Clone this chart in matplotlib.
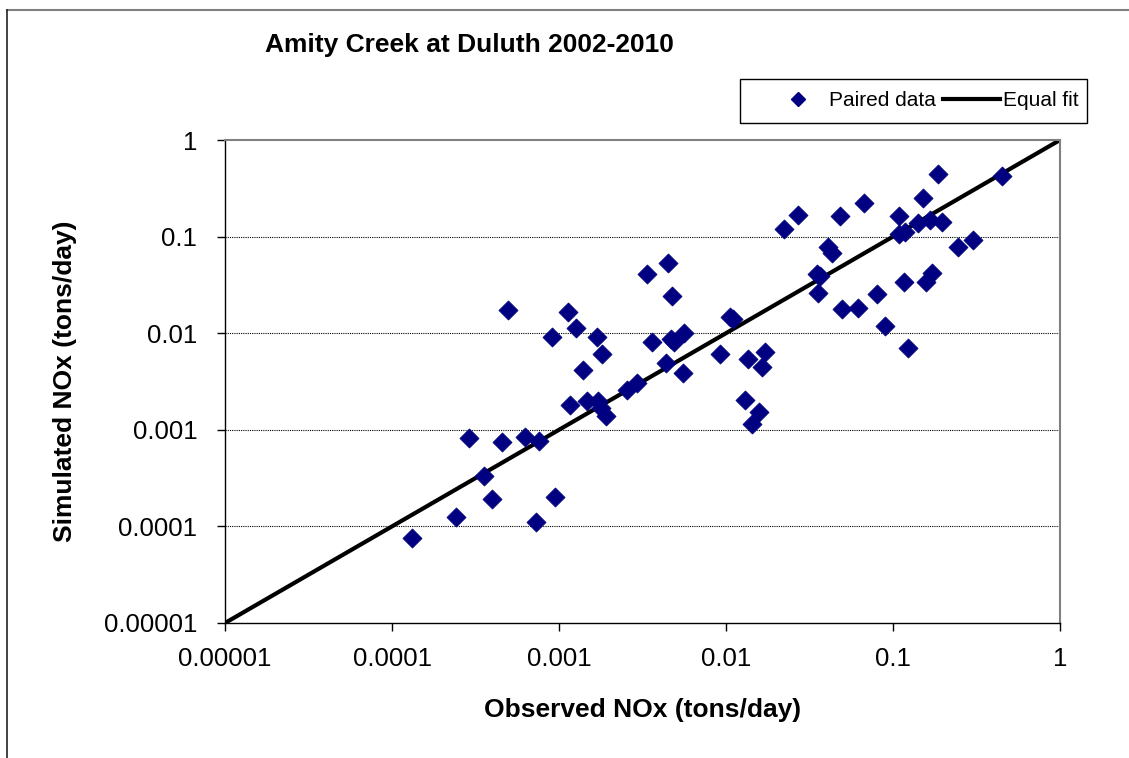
import matplotlib
matplotlib.use("Agg")
import matplotlib.pyplot as plt
from matplotlib.lines import Line2D
from matplotlib.patches import Rectangle

plt.rcParams['font.family'] = ['Liberation Sans', 'DejaVu Sans']

# observed vs simulated NOx (tons/day)
observed = [1.32e-4, 2.42e-4, 2.89e-4, 3.56e-4, 3.97e-4, 4.56e-4, 4.95e-4, 6.25e-4,
            7.28e-4, 7.6e-4, 9.08e-4, 9.46e-4, 1.13e-3, 1.16e-3, 1.26e-3, 1.39e-3,
            1.47e-3, 1.69e-3, 1.71e-3, 1.81e-3, 1.78e-3, 1.91e-3, 2.55e-3, 2.93e-3,
            3.37e-3, 3.61e-3, 4.38e-3, 4.5e-3, 4.75e-3, 4.69e-3, 4.89e-3, 5.61e-3,
            5.53e-3, 9.2e-3, 0.0106, 0.0110, 0.0130, 0.0136, 0.0143, 0.0158,
            0.0164, 0.0171, 0.0222, 0.027, 0.0351, 0.0366, 0.0356, 0.0408,
            0.0432, 0.0482, 0.0495, 0.0617, 0.067, 0.0802, 0.0895, 0.109,
            0.109, 0.118, 0.116, 0.123, 0.141, 0.151, 0.167, 0.196,
            0.158, 0.171, 0.186, 0.245, 0.301, 0.45]
simulated = [7.6e-5, 1.25e-4, 8.2e-4, 3.33e-4, 1.92e-4, 7.5e-4, 0.0174, 8.4e-4,
             1.11e-4, 7.66e-4, 9.1e-3, 2.01e-4, 0.0166, 1.81e-3, 0.0113, 4.16e-3,
             1.99e-3, 9.1e-3, 1.99e-3, 6.1e-3, 1.68e-3, 1.39e-3, 2.58e-3, 3.05e-3,
             0.041, 8.1e-3, 4.92e-3, 0.0533, 0.0243, 8.7e-3, 8.1e-3, 0.0100,
             3.87e-3, 6.1e-3, 0.0147, 0.0140, 2.03e-3, 5.4e-3, 1.15e-3, 1.53e-3,
             4.47e-3, 6.4e-3, 0.120, 0.167, 0.041, 0.0391, 0.0261, 0.078,
             0.0676, 0.163, 0.0178, 0.0182, 0.223, 0.0255, 0.0119, 0.163,
             0.106, 0.112, 0.0339, 7.0e-3, 0.138, 0.251, 0.149, 0.142,
             0.0339, 0.042, 0.445, 0.078, 0.0922, 0.424]

equal_fit = [1e-5, 1]
ticks = [1e-5, 1e-4, 1e-3, 1e-2, 1e-1, 1]
tick_labels = ['0.00001', '0.0001', '0.001', '0.01', '0.1', '1']

W, H = 1129, 758
fig = plt.figure(figsize=(W / 100, H / 100), dpi=100)
ax = fig.add_axes([225 / W, 1 - 623 / H, 835 / W, 483 / H])

ax.set_xscale('log')
ax.set_yscale('log')
ax.set_xlim(1e-5, 1)
ax.set_ylim(1e-5, 1)

for t in ticks[1:-1]:
    ax.axhline(t, color='black', lw=0.8, ls=(0, (1, 1)), zorder=1)

ax.plot(equal_fit, equal_fit, color='black', lw=3, zorder=2, solid_capstyle='butt')
ax.scatter(observed, simulated, marker='D', s=95, color='#000080', edgecolors='#000080',
           linewidths=0.5, zorder=3)

ax.set_xticks(ticks)
ax.set_xticklabels(tick_labels)
ax.set_yticks(ticks)
ax.set_yticklabels(tick_labels)
ax.minorticks_off()
ax.tick_params(axis='both', direction='out', length=6, width=1, labelsize=18.5)
ax.tick_params(axis='x', pad=11)
ax.tick_params(axis='y', pad=14)

for side in ['top', 'right']:
    ax.spines[side].set_color('#808080')
    ax.spines[side].set_linewidth(1.5)
for side in ['left', 'bottom']:
    ax.spines[side].set_color('black')
    ax.spines[side].set_linewidth(1)

ax.set_xlabel('Observed NOx (tons/day)', fontsize=19, fontweight='bold', labelpad=20)
ax.set_ylabel('Simulated NOx (tons/day)', fontsize=19, fontweight='bold', labelpad=19)

fig.text(265 / W, 1 - 45 / H, 'Amity Creek at Duluth 2002-2010', fontsize=19,
         fontweight='bold', ha='left', va='center')

# legend box drawn separately, entries placed inside it
fig.add_artist(Rectangle((740 / W, 1 - 123 / H), 347 / W, 44 / H, transform=fig.transFigure,
                         fill=True, facecolor='white', edgecolor='black', lw=1))
handles = [Line2D([], [], marker='D', ls='none', color='#000080', markersize=7),
           Line2D([], [], color='black', lw=3)]
fig.legend(handles, ['Paired data', 'Equal fit'], loc='center left',
           bbox_to_anchor=(769 / W, 1 - 101 / H), ncol=2, fontsize=15,
           frameon=False, borderpad=0, borderaxespad=0,
           handlelength=2.75, columnspacing=0.3, handletextpad=0.15)

# chart area border (top and left edges visible)
fig.add_artist(Line2D([7 / W, 1], [1 - 10 / H, 1 - 10 / H], color='#808080', lw=1.5,
                      transform=fig.transFigure))
fig.add_artist(Line2D([7 / W, 7 / W], [0, 1 - 10 / H], color='#222222', lw=1.2,
                      transform=fig.transFigure))

fig.savefig('out.png', dpi=100)
